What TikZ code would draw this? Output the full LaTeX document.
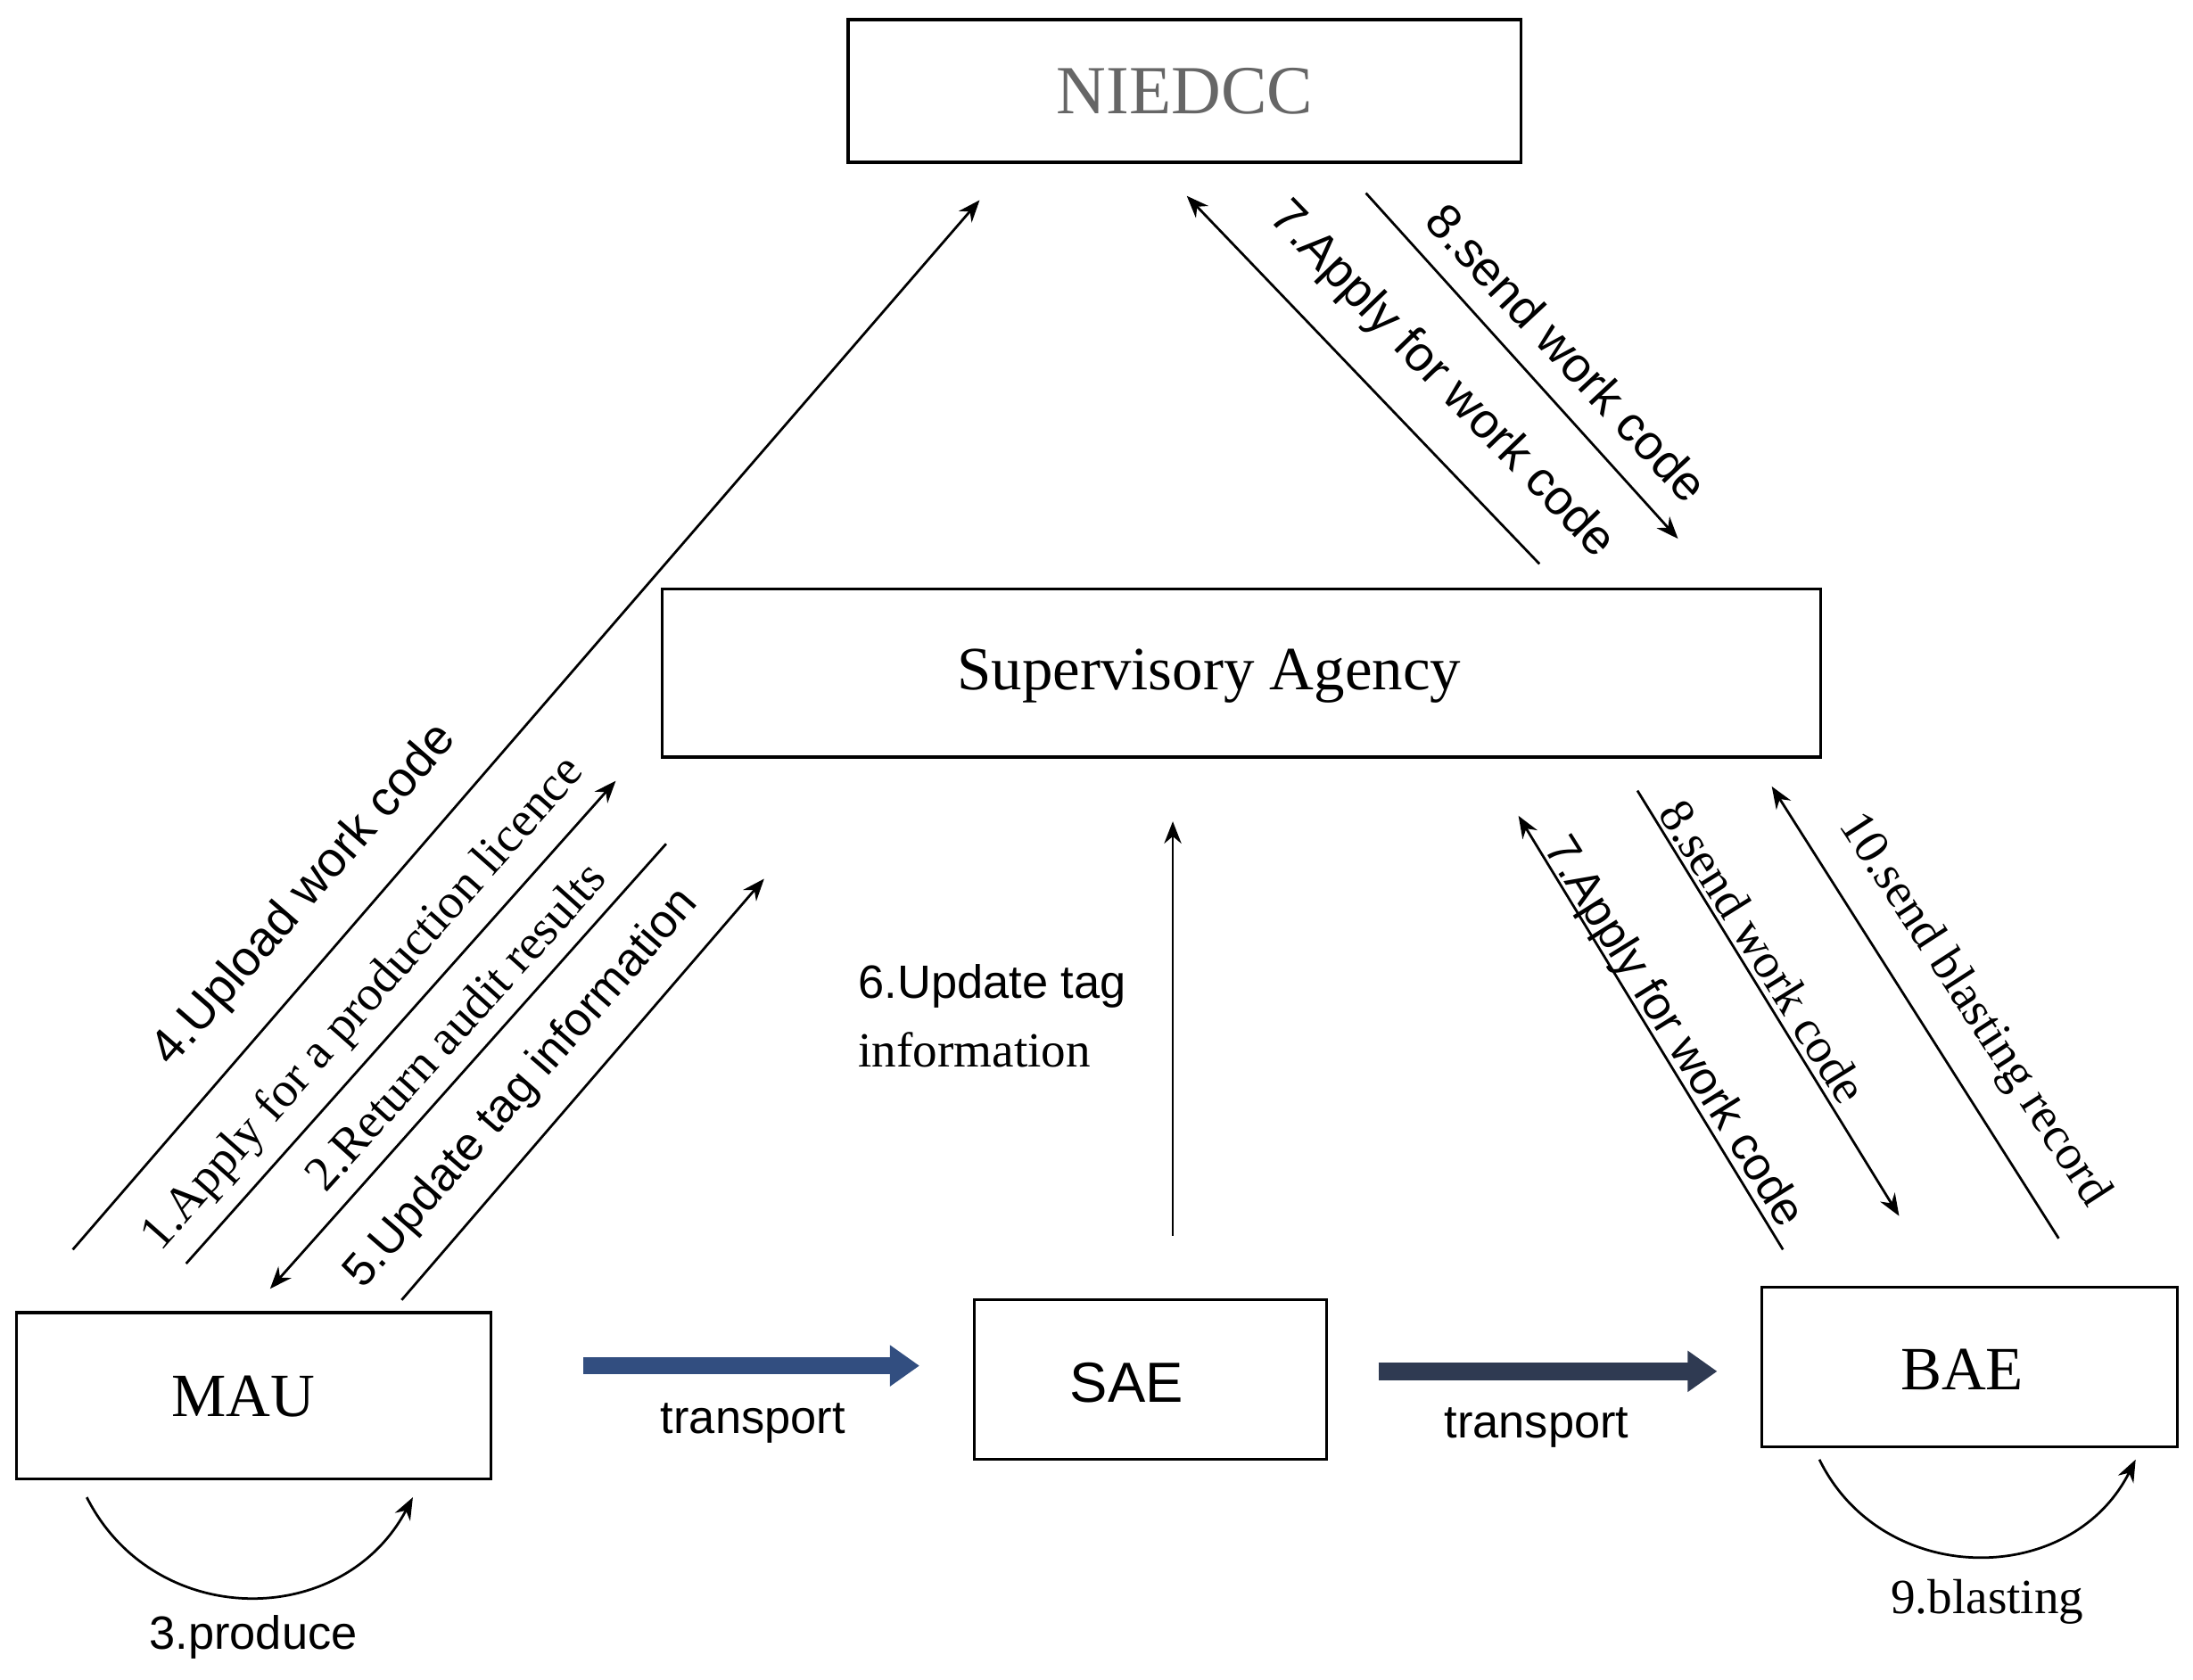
\documentclass[tikz,border=0pt]{standalone}
\usepackage{fontspec}
\setmainfont{Liberation Serif}
\newfontfamily\sansf{Liberation Sans}
\usetikzlibrary{arrows.meta}
\definecolor{tblue}{RGB}{50,78,128}
\definecolor{tdark}{RGB}{47,58,82}
\begin{document}
\begin{tikzpicture}[x=0.2mm,y=-0.2mm,
  box/.style={draw,line width=1.2pt,inner sep=0},
  arr/.style={line width=1pt,-{Stealth[length=9pt,width=7pt]}},
  lab/.style={font=\fontsize{20}{24}\selectfont,inner sep=0},
  slab/.style={font=\sansf\fontsize{19}{24}\selectfont,inner sep=0},
  blab/.style={font=\sansf\fontsize{20}{24}\selectfont,inner sep=0},
  fat/.style={line width=7pt,-{Triangle[length=12pt,width=16pt]}}]
\useasboundingbox (0,0) rectangle (1567,1200);
% boxes
\node[box,minimum width=96.2mm,minimum height=20.4mm,text=gray!80!black,font=\fontsize{28}{30}\selectfont] (nie) at (846.5,65) {NIEDCC};
\node[box,minimum width=165.6mm,minimum height=24mm,font=\fontsize{25}{28}\selectfont] (sup) at (887,481) {};
\node[font=\fontsize{25}{28}\selectfont] (supt) at (864,483) {Supervisory Agency};
\node[box,minimum width=67.8mm,minimum height=23.8mm,font=\fontsize{25}{28}\selectfont] (mau) at (181.5,997.5) {};
\node[font=\fontsize{25}{28}\selectfont] (maut) at (174,998) {MAU};
\node[box,minimum width=50.4mm,minimum height=22.8mm] (sae) at (822,986) {};
\node[font=\sansf\fontsize{23}{26}\selectfont] (saet) at (805,988) {SAE};
\node[box,minimum width=59.4mm,minimum height=22.8mm] (bae) at (1407.5,977) {};
\node[font=\fontsize{25}{28}\selectfont] (baet) at (1402,979) {BAE};
% coordinates
\coordinate (a4s) at (52,893); \coordinate (a4e) at (700,143);
\coordinate (a1s) at (133,903); \coordinate (a1e) at (440,558);
\coordinate (a2s) at (476,603); \coordinate (a2e) at (193,921);
\coordinate (a5s) at (287,929); \coordinate (a5e) at (546,628);
\coordinate (t7s) at (1100,403); \coordinate (t7e) at (848,140);
\coordinate (t8s) at (976,138); \coordinate (t8e) at (1199,385);
\coordinate (a6s) at (838,883); \coordinate (a6e) at (838,587);
\coordinate (b7s) at (1274,893); \coordinate (b7e) at (1085,583);
\coordinate (b8s) at (1170,565); \coordinate (b8e) at (1357,869);
\coordinate (b10s) at (1471,885); \coordinate (b10e) at (1266,562);
\coordinate (tr1s) at (417,976); \coordinate (tr1e) at (657,976);
\coordinate (tr2s) at (985,980); \coordinate (tr2e) at (1227,980);
\coordinate (l1s) at (62,1070); \coordinate (l1e) at (295,1070);
\coordinate (l2s) at (1300,1043); \coordinate (l2e) at (1526,1043);
% arrows
\foreach \s/\e in {a4s/a4e,a1s/a1e,a2s/a2e,a5s/a5e,t7s/t7e,t8s/t8e,a6s/a6e,b7s/b7e,b8s/b8e,b10s/b10e}
  \draw[arr] (\s) -- (\e);
\draw[fat,draw=tblue,fill=tblue] (tr1s) -- (tr1e);
\draw[fat,draw=tdark,fill=tdark] (tr2s) -- (tr2e);
\draw[arr] (l1s) .. controls (110,1165) and (245,1165) .. (l1e);
\draw[arr] (l2s) .. controls (1345,1135) and (1480,1135) .. (l2e);
% labels
\node[blab,rotate=49] (t4) at (218,640) {4.Upload work code};
\node[lab,rotate=48.5] (t1) at (260,718) {1.Apply for a production licence};
\node[lab,rotate=48] (t2) at (325,733) {2.Return audit results};
\node[slab,rotate=49] (t5) at (373,778) {5.Update tag information};
\node[blab,rotate=-46] (tt7) at (1030,272) {7.Apply for work code};
\node[blab,rotate=-47] (tt8) at (1120,252) {8.send work code};
\node[slab,anchor=west] (t6a) at (613,705) {6.Update tag};
\node[lab,anchor=west] (t6b) at (613,750) {information};
\node[slab,rotate=-58] (bt7) at (1195,738) {7.Apply for work code};
\node[lab,rotate=-58] (bt8) at (1260,680) {8.send work code};
\node[lab,rotate=-57] (bt10) at (1410,722) {10.send blasting record};
\node[slab] (tp1) at (538,1017) {transport};
\node[slab] (tp2) at (1098,1020) {transport};
\node[slab] (pr) at (181,1170) {3.produce};
\node[lab] (bl) at (1420,1145) {9.blasting};
\end{tikzpicture}
\end{document}
